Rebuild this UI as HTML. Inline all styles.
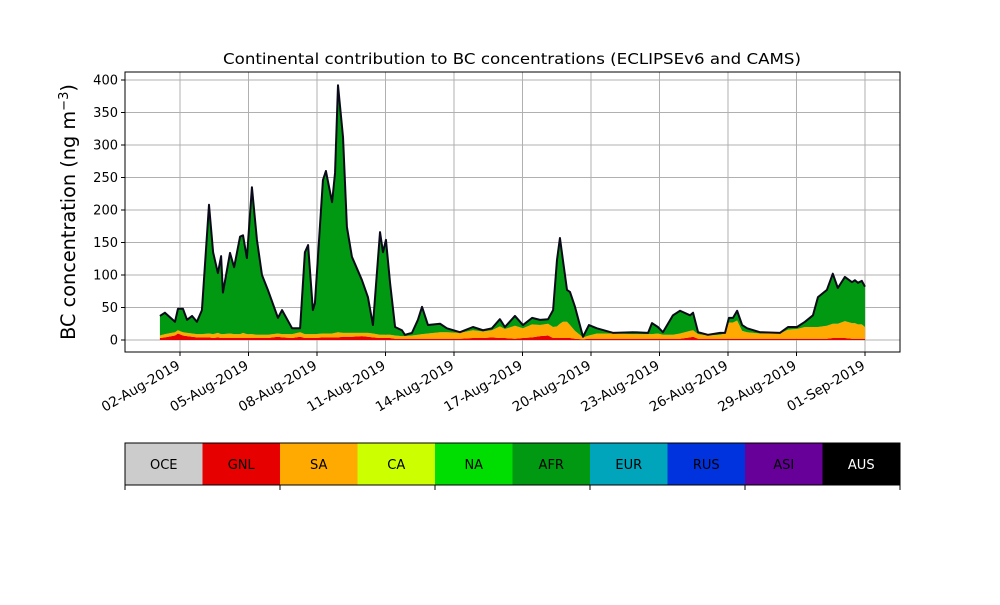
<!DOCTYPE html>
<html><head><meta charset="utf-8"><style>
body{margin:0;background:#fff;}
svg text{font-family:"DejaVu Sans","Liberation Sans",sans-serif;}
</style></head><body>
<svg id="chart" width="1000" height="600" viewBox="0 0 1000 600" xmlns="http://www.w3.org/2000/svg">
<rect width="1000" height="600" fill="#fff"/>
<text x="512" y="64" text-anchor="middle" font-size="14.8" textLength="578" lengthAdjust="spacingAndGlyphs">Continental contribution to BC concentrations (ECLIPSEv6 and CAMS)</text>
<text transform="translate(75,212) rotate(-90)" text-anchor="middle" font-size="19.3">BC concentration (ng m<tspan baseline-shift="super" font-size="13">−3</tspan>)</text>
<g id="grid"></g><g id="areas"></g><g id="axes"></g><g id="cbar"></g>
</svg>
<script>
const days=[1.12,1.34,1.78,1.91,2.13,2.31,2.53,2.74,2.96,3.27,3.45,3.66,3.80,3.88,4.19,4.37,4.63,4.76,4.93,5.15,5.37,5.59,5.85,6.29,6.47,6.91,7.26,7.47,7.61,7.82,7.91,8.26,8.39,8.66,8.79,8.92,9.14,9.31,9.53,9.97,10.23,10.45,10.76,10.89,11.02,11.20,11.42,11.72,11.85,12.16,12.42,12.60,12.86,13.39,13.69,14.26,14.83,15.27,15.66,16.01,16.23,16.67,17.02,17.42,17.77,18.12,18.34,18.51,18.64,18.77,18.95,19.08,19.30,19.65,19.91,20.26,20.96,21.84,22.50,22.67,22.93,23.15,23.59,23.90,24.34,24.47,24.69,25.12,25.65,25.87,26.04,26.22,26.40,26.62,26.84,27.40,28.28,28.63,29.02,29.37,29.72,29.94,30.33,30.59,30.81,31.12,31.43,31.56,31.69,31.86,32.0];
const total=[37,42,28,48,48,31,37,28,46,208,135,103,129,73,134,112,159,161,126,235,154,100,77,34,46,18,18,135,146,46,57,246,260,212,257,392,312,174,128,92,66,23,166,135,154,88,20,15,8,11,31,51,23,25,18,12,20,15,18,32,20,37,23,34,31,32,46,123,157,123,77,74,51,5,23,18,11,12,11,26,20,12,38,45,38,42,12,8,11,11,34,34,45,23,18,12,11,20,20,28,38,66,77,102,80,97,89,92,88,91,82];
const gnl=[3,4,7,10,7,6,5,4,4,4,3,4,3,3,3,3,3,3,3,3,3,3,3,5,4,3,5,3,3,3,3,4,4,4,4,4,5,5,5,6,5,4,3,3,3,3,2,2,2,2,2,2,2,2,2,2,3,3,4,3,3,2,3,4,6,7,3,3,3,3,3,3,2,1,2,2,2,2,2,2,2,2,2,2,4,5,2,2,2,2,2,2,2,2,2,2,2,2,2,2,2,2,2,3,3,3,2,2,2,2,2];
const sa=[4,5,5,5,5,5,5,5,5,6,6,7,6,6,7,6,6,8,6,6,5,5,5,5,5,6,7,6,6,6,6,6,6,6,7,8,6,6,6,5,6,6,5,5,5,5,5,4,4,5,6,7,8,10,10,9,12,10,11,18,14,20,15,20,17,18,17,18,22,25,25,20,12,3,5,8,8,7,7,7,8,6,6,8,10,10,7,5,6,8,25,25,28,12,10,8,8,14,15,18,18,18,20,22,22,26,24,24,22,22,18];
const yTicks=[0,50,100,150,200,250,300,350,400];
const xTickDays=[2,5,8,11,14,17,20,23,26,29,32];
const xTickLabels=["02-Aug-2019","05-Aug-2019","08-Aug-2019","11-Aug-2019","14-Aug-2019","17-Aug-2019","20-Aug-2019","23-Aug-2019","26-Aug-2019","29-Aug-2019","01-Sep-2019"];
const regions=["OCE","GNL","SA","CA","NA","AFR","EUR","RUS","ASI","AUS"];
const regionColors=["#cccccc","#e60000","#ffaa00","#ccff00","#00dd00","#009911","#00a5bb","#0033dd","#660099","#000000"];
const NS="http://www.w3.org/2000/svg";
const L=125,R=900,T=72,B=352;
const x=d=>180+(d-2)*22.833;
const y=v=>340-v*0.65;
function mk(tag,attrs,parent){const e=document.createElementNS(NS,tag);for(const k in attrs)e.setAttribute(k,attrs[k]);parent.appendChild(e);return e;}
const grid=document.getElementById('grid'),areas=document.getElementById('areas'),axes=document.getElementById('axes'),cbar=document.getElementById('cbar');
yTicks.forEach(v=>{
  const g=mk('line',{x1:L,x2:R,y1:y(v),y2:y(v),stroke:'#b0b0b0','stroke-width':1},grid);
  
  
  mk('line',{x1:L-4,x2:L,y1:y(v),y2:y(v),stroke:'#000'},axes);
  const t=mk('text',{x:L-7,y:y(v)+4.5,'text-anchor':'end','font-size':13},axes);
  t.textContent=v;
  
  
});
xTickDays.forEach((d,i)=>{
  const g=mk('line',{x1:x(d),x2:x(d),y1:T,y2:B,stroke:'#b0b0b0','stroke-width':1},grid);
  
  
  mk('line',{x1:x(d),x2:x(d),y1:B,y2:B+4,stroke:'#000'},axes);
  const t=mk('text',{'text-anchor':'end','font-size':13.6,transform:`translate(${x(d)+1},${B+16}) rotate(-30)`},axes);
  t.textContent=xTickLabels[i];
  
  
});
function band(lo,hi,color,name){
  let p='M'+days.map((d,i)=>x(d)+','+y(hi[i])).join('L');
  for(let i=days.length-1;i>=0;i--)p+='L'+x(days[i])+','+y(lo[i]);
  const e=mk('path',{d:p+'Z',fill:color,stroke:'none'},areas);
  
  
}
const zero=days.map(()=>0);
const c1=gnl.slice();
const c2=gnl.map((g,i)=>g+sa[i]);
band(zero,c1,'#e60000','area-gnl');
band(c1,c2,'#ffaa00','area-sa');
band(c2,total,'#009911','area-afr');
const ln=mk('polyline',{points:days.map((d,i)=>x(d)+','+y(total[i])).join(' '),fill:'none',stroke:'#0a0a1a','stroke-width':2,'stroke-linejoin':'round'},areas);


const fr=mk('rect',{x:L,y:T,width:R-L,height:B-T,fill:'none',stroke:'#000','stroke-width':1},axes);


const cw=(R-L)/regions.length;
regions.forEach((r,i)=>{
  const c=mk('rect',{x:L+i*cw,y:443,width:cw,height:42,fill:regionColors[i]},cbar);
  
  
  const t=mk('text',{x:L+i*cw+cw/2,y:469,'text-anchor':'middle','font-size':13,fill:r==='AUS'?'#fff':'#000'},cbar);
  t.textContent=r;
  
  
});
mk('rect',{x:L,y:443,width:R-L,height:42,fill:'none',stroke:'#000'},cbar);
for(let i=0;i<=regions.length;i+=2)mk('line',{x1:L+i*cw,x2:L+i*cw,y1:485,y2:490,stroke:'#000'},cbar);
</script>
</body></html>
